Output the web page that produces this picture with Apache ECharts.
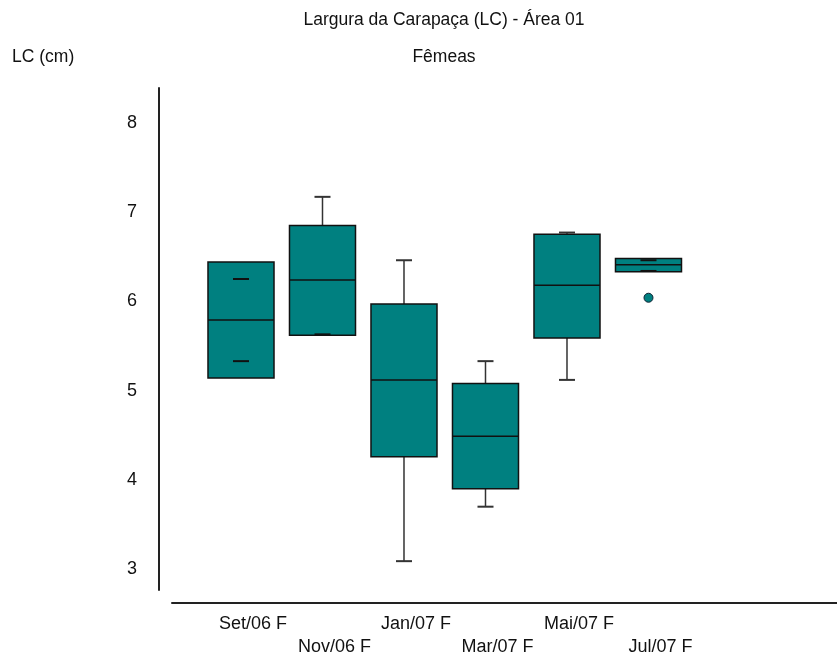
<!DOCTYPE html>
<html><head><meta charset="utf-8">
<script src="https://cdn.jsdelivr.net/npm/echarts@6/dist/echarts.min.js"></script>
<style>html,body{margin:0;padding:0;background:#fff}#c{width:837px;height:659px}</style>
</head><body><div id="c"></div>
<script>
// ---- data ----
const categories = ['Set/06 F', 'Nov/06 F', 'Jan/07 F', 'Mar/07 F', 'Mai/07 F', 'Jul/07 F'];
const whiskerLow  = [5.33, 5.63, 3.09, 3.70, 5.12, 6.34];
const q1          = [5.14, 5.62, 4.26, 3.90, 5.59, 6.33];
const median      = [5.79, 6.24, 5.12, 4.49, 6.18, 6.41];
const q3          = [6.44, 6.85, 5.97, 5.08, 6.75, 6.48];
const whiskerHigh = [6.25, 7.17, 6.46, 5.33, 6.77, 6.46];
const outlierCategory = [5];
const outlierValue    = [6.04];
const yTicks = [3, 4, 5, 6, 7, 8];
const titleText = 'Largura da Carapaça (LC) - Área 01';
const subtitleText = 'Fêmeas';
const yAxisName = 'LC (cm)';

const FONT = "'Liberation Sans', Arial, sans-serif";
const TEAL = '#008080';

const boxData = categories.map((c, i) => [i, whiskerLow[i], q1[i], median[i], q3[i], whiskerHigh[i]]);
const outlierData = outlierCategory.map((c, k) => [c, outlierValue[k]]);
const evenIdx = categories.map((c, i) => i).filter(i => i % 2 === 0);
const oddIdx = categories.map((c, i) => i).filter(i => i % 2 === 1);

function renderBox(params, api) {
  const i = api.value(0);
  const cx = api.coord([i, 0])[0];
  const band = api.size([1, 0])[0];
  const bw = band * 0.81;
  const capW = 16;
  const y = v => api.coord([i, v])[1];
  const yLo = y(api.value(1)), yQ1 = y(api.value(2)), yMed = y(api.value(3)),
        yQ3 = y(api.value(4)), yHi = y(api.value(5));
  const ch = [];
  const wStyle = { stroke: '#333', lineWidth: 1.5 };
  if (yHi < yQ3) ch.push({ type: 'line', shape: { x1: cx, y1: yQ3, x2: cx, y2: yHi }, style: wStyle });
  if (yLo > yQ1) ch.push({ type: 'line', shape: { x1: cx, y1: yQ1, x2: cx, y2: yLo }, style: wStyle });
  ch.push({ type: 'rect', shape: { x: cx - bw / 2, y: yQ3, width: bw, height: yQ1 - yQ3 },
            style: { fill: TEAL, stroke: '#111', lineWidth: 1.5 } });
  ch.push({ type: 'line', shape: { x1: cx - bw / 2, y1: yMed, x2: cx + bw / 2, y2: yMed },
            style: { stroke: '#111', lineWidth: 1.5 } });
  const capStyleOut = { stroke: '#333', lineWidth: 2 };
  const capStyleIn = { stroke: '#111', lineWidth: 2 };
  ch.push({ type: 'line', shape: { x1: cx - capW / 2, y1: yHi, x2: cx + capW / 2, y2: yHi },
            style: yHi < yQ3 ? capStyleOut : capStyleIn });
  ch.push({ type: 'line', shape: { x1: cx - capW / 2, y1: yLo, x2: cx + capW / 2, y2: yLo },
            style: yLo > yQ1 ? capStyleOut : capStyleIn });
  return { type: 'group', children: ch };
}

const xMin = -0.8466, xMax = 7.313;
function xAxisFor(values, margin, showLine) {
  return {
    type: 'value', min: xMin, max: xMax, offset: 12.5, position: 'bottom',
    axisLine: { show: showLine, onZero: false, lineStyle: { color: '#222', width: 2 } },
    axisTick: { show: false }, splitLine: { show: false },
    axisLabel: {
      customValues: values, showMinLabel: true, showMaxLabel: true, hideOverlap: false,
      formatter: v => categories[Math.round(v)],
      color: '#111', fontSize: 18, fontFamily: FONT, margin: margin,
      padding: [0, 0, 0, 24]
    }
  };
}

const chart = echarts.init(document.getElementById('c'), null, { renderer: 'canvas' });
chart.setOption({
  animation: false,
  backgroundColor: '#fff',
  textStyle: { fontFamily: FONT },
  graphic: [
    { type: 'text', x: 444, y: 20, style: { text: titleText, font: '17.5px ' + FONT, fill: '#111', align: 'center', verticalAlign: 'middle' } },
    { type: 'text', x: 444, y: 57, style: { text: subtitleText, font: '17.5px ' + FONT, fill: '#111', align: 'center', verticalAlign: 'middle' } },
    { type: 'text', x: 12, y: 57, style: { text: yAxisName, font: '17.5px ' + FONT, fill: '#111', align: 'left', verticalAlign: 'middle' } }
  ],
  grid: { left: 172, right: 0, top: 88, bottom: 69, containLabel: false },
  xAxis: [ xAxisFor(evenIdx, 13, true), xAxisFor(oddIdx, 36, false) ],
  yAxis: {
    type: 'value', min: 2.767, max: 8.389, offset: 13,
    axisLine: { show: true, onZero: false, lineStyle: { color: '#222', width: 2 } },
    axisTick: { show: false }, splitLine: { show: false },
    axisLabel: { customValues: yTicks, showMinLabel: true, showMaxLabel: true,
                 color: '#111', fontSize: 18, fontFamily: FONT, margin: 22 }
  },
  series: [
    { type: 'custom', xAxisIndex: 0, renderItem: renderBox, data: boxData, encode: { x: 0, y: [1, 2, 3, 4, 5] }, clip: false },
    { type: 'scatter', xAxisIndex: 0, data: outlierData, symbol: 'circle', symbolSize: 9,
      itemStyle: { color: TEAL, borderColor: '#123', borderWidth: 1, opacity: 1 }, clip: false }
  ]
});
</script></body></html>
